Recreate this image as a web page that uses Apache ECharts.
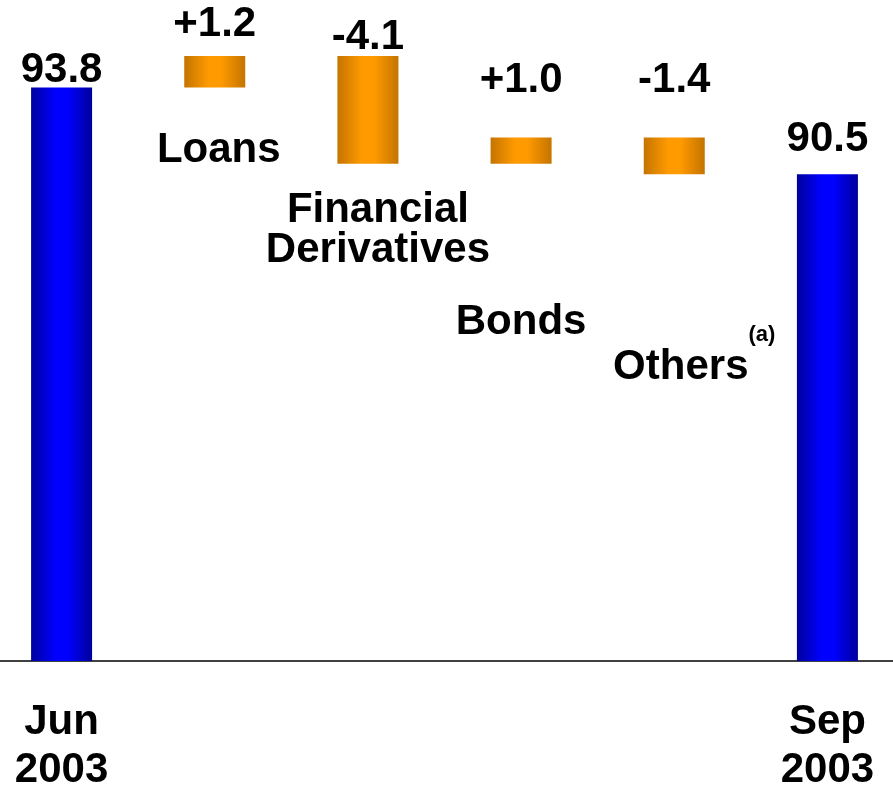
<!DOCTYPE html>
<html>
<head>
<meta charset="utf-8">
<script src="https://cdn.jsdelivr.net/npm/echarts@6/dist/echarts.min.js"></script>
<style>
  html, body { margin: 0; padding: 0; background: #ffffff; }
  #chart { width: 893px; height: 785px; }
</style>
</head>
<body>
<div id="chart"></div>
<script>
// Waterfall of the quarter's movement between the two totals
const categories = ['Jun\n2003', 'Loans', 'Financial\nDerivatives', 'Bonds', 'Others', 'Sep\n2003'];
const openingTotal = 93.8;
const changes = [1.2, -4.1, 1.0, -1.4];
const closingTotal = 90.5;

// Label placement (pixels) for each column
const valueLabelGap = [-3, 12, -1, 37, 37, 15];
const nameLabelGap = [null, 43, 27, 139, 173, null];
const nameLabelShiftX = [0, 4, 10, 0, 20, 0];

const FONT = "'Liberation Sans', Arial, Helvetica, sans-serif";
const FONT_SIZE = 42;

// Build invisible bases and visible heights from the running total
const baseValues = [0];
const barHeights = [openingTotal];
const valueTexts = [openingTotal.toFixed(1)];
let running = openingTotal;
changes.forEach(function (c) {
  const low = c > 0 ? running : running + c;
  baseValues.push(Math.round(low * 10) / 10);
  barHeights.push(Math.abs(c));
  valueTexts.push((c > 0 ? '+' : '-') + Math.abs(c).toFixed(1));
  running = Math.round((running + c) * 10) / 10;
});
baseValues.push(0);
barHeights.push(closingTotal);
valueTexts.push(closingTotal.toFixed(1));

function hGradient(edge, mid) {
  return {
    type: 'linear', x: 0, y: 0, x2: 1, y2: 0,
    colorStops: [
      { offset: 0, color: edge },
      { offset: 0.4, color: mid },
      { offset: 0.6, color: mid },
      { offset: 1, color: edge }
    ]
  };
}
const totalFill = hGradient('#00009c', '#0000ff');
const changeFill = hGradient('#c47400', '#ff9a00');

const isTotal = function (i) { return i === 0 || i === categories.length - 1; };

const baseData = baseValues.map(function (v, i) {
  const name = categories[i];
  const item = { value: v };
  if (isTotal(i)) {
    item.label = { show: false };
  } else {
    item.label = {
      show: true,
      position: 'insideTop',
      distance: nameLabelGap[i],
      offset: [nameLabelShiftX[i], 0],
      formatter: name === 'Others' ? '{n|Others}{s|(a)}' : name
    };
  }
  return item;
});

const visibleData = barHeights.map(function (v, i) {
  return {
    value: v,
    itemStyle: { color: isTotal(i) ? totalFill : changeFill },
    label: { distance: valueLabelGap[i] }
  };
});

const chart = echarts.init(document.getElementById('chart'));
chart.setOption({
  animation: false,
  backgroundColor: '#ffffff',
  grid: {
    left: -15, width: 919, top: 56, bottom: 124,
    containLabel: false,
    outerBoundsMode: 'none'
  },
  xAxis: {
    type: 'category',
    data: categories,
    axisLine: { show: true, lineStyle: { color: '#000000', width: 1.5 } },
    axisTick: { show: false },
    axisLabel: {
      interval: 0,
      margin: 37,
      color: '#000000',
      fontFamily: FONT,
      fontWeight: 'bold',
      fontSize: FONT_SIZE,
      lineHeight: 48,
      formatter: function (val, idx) { return isTotal(idx) ? val : ''; }
    }
  },
  yAxis: { type: 'value', min: 72, max: 95, show: false },
  series: [
    {
      name: 'base',
      type: 'bar',
      stack: 'flow',
      barWidth: 61,
      silent: true,
      itemStyle: { color: 'rgba(0,0,0,0)' },
      label: {
        color: '#000000',
        fontFamily: FONT,
        fontWeight: 'bold',
        fontSize: FONT_SIZE,
        lineHeight: 40,
        rich: {
          n: { fontFamily: FONT, fontWeight: 'bold', fontSize: FONT_SIZE, lineHeight: 40, color: '#000000' },
          s: { fontFamily: FONT, fontWeight: 'bold', fontSize: 22, color: '#000000', padding: [0, 0, 64, 0] }
        }
      },
      data: baseData
    },
    {
      name: 'value',
      type: 'bar',
      stack: 'flow',
      barWidth: 61,
      label: {
        show: true,
        position: 'top',
        color: '#000000',
        fontFamily: FONT,
        fontWeight: 'bold',
        fontSize: FONT_SIZE,
        lineHeight: 40,
        formatter: function (p) { return valueTexts[p.dataIndex]; }
      },
      data: visibleData
    }
  ]
});
</script>
</body>
</html>
